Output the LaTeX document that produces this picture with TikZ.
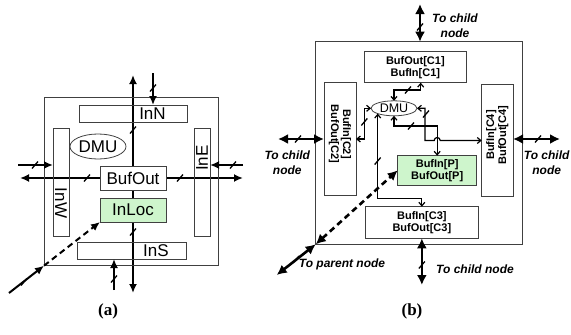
\documentclass[tikz,border=0pt]{standalone}
\usepackage{fontspec}
\setmainfont{Liberation Sans}
\newfontfamily\capfont{Liberation Serif}
\usetikzlibrary{shapes.geometric,arrows.meta,calc}
\definecolor{locgreen}{RGB}{206,245,204}
\newcommand\wtick[1]{\draw[line width=1.3pt] (#1) ++(-3,3.5) -- ++(6,-7);}
\begin{document}
\begin{tikzpicture}[x=1pt,y=-1pt,
  box/.style={draw=black!75,line width=0.8pt,inner sep=0,outer sep=0},
  labA/.style={font=\fontsize{17}{20}\selectfont,inner sep=0},
  labB/.style={font=\bfseries\fontsize{11}{12}\selectfont,align=center,inner sep=0},
  note/.style={font=\bfseries\itshape\fontsize{12}{15}\selectfont,align=center,inner sep=0},
  capt/.style={font=\capfont\bfseries\fontsize{17}{20}\selectfont,inner sep=0},
  wireA/.style={line width=2pt,>={Latex[length=9pt,width=8pt]}},
  wireB/.style={line width=2.6pt,>={Latex[length=10pt,width=10pt]}},
  wireI/.style={line width=1.2pt,>={Straight Barb[length=3.5pt,width=6pt]}},
  dashline/.style={dash pattern=on 6pt off 4pt}
]
\useasboundingbox (0,0) rectangle (571,335);

% ================= (a) =================
\coordinate (aTop) at (133,75);
\coordinate (aBot) at (133,293);
\coordinate (aLeft) at (20,178);
\coordinate (aRight) at (243,178);
\draw[wireA,<->] (aTop) -- (aBot);
\draw[wireA,<->] (aLeft) -- (aRight);

\node[box,minimum width=174,minimum height=168] (outerA) at (131,181.7) {};
\node[box,minimum width=108,minimum height=17] (inN) at (133,113.5) {};
\node[box,minimum width=16,minimum height=108] (inW) at (61,182) {};
\node[box,minimum width=16,minimum height=108] (inE) at (202,182) {};
\node[box,minimum width=109,minimum height=17] (inS) at (131.5,250.5) {};
\node[box,ellipse,minimum width=56,minimum height=25,labA] (dmuA) at (98,146.5) {DMU};
\node[box,fill=white,minimum width=66,minimum height=24,labA] (bufOut) at (133,178) {BufOut};
\node[box,fill=locgreen,minimum width=66,minimum height=24,labA] (inLoc) at (133,210) {InLoc};
\node[labA] (tInN) at (152.5,113.5) {InN};
\node[labA] (tInS) at (156,250.5) {InS};
\node[labA,rotate=-90] (tInW) at (61,203) {InW};
\node[labA,rotate=90] (tInE) at (202,158) {InE};

\coordinate (nIn) at (153,73);
\draw[wireA,->] (nIn) -- (nIn |- inN.north);
\coordinate (wIn) at (18,165);
\draw[wireA,->] (wIn) -- (wIn -| inW.west);
\coordinate (eIn) at (243,165);
\draw[wireA,->] (eIn) -- (eIn -| inE.east);
\coordinate (sIn) at (114,290);
\draw[wireA,->] (sIn) -- (sIn |- inS.south);
\coordinate (dIn) at (9,293);
\draw[wireA,->] (dIn) -- (outerA.south west);
\draw[wireA,dashline,->] (outerA.south west) -- (inLoc.south west);

\wtick{133,130}
\wtick{133,232}
\wtick{87,178}
\wtick{180,178}
\wtick{153,88}
\wtick{35,165}
\wtick{233,165}
\wtick{114,279}
\wtick{24,282}

\node[capt] (capA) at (108,311) {(a)};

% ================= (b) =================
\node[box,minimum width=207,minimum height=202.6] (outerB) at (419.2,143) {};
\node[box,minimum width=102.7,minimum height=31,labB] (c1) at (415.35,67.2) {BufOut[C1]\\BufIn[C1]};
\node[box,minimum width=32,minimum height=112.3] (c2) at (340,138.85) {};
\node[labB,rotate=-90] (tc2) at (340,134) {BufIn[C2]\\BufOut[C2]};
\node[box,minimum width=31.3,minimum height=112.4] (c4) at (497.35,140.5) {};
\node[labB,rotate=90] (tc4) at (497.35,135) {BufIn[C4]\\BufOut[C4]};
\node[box,fill=locgreen,minimum width=79,minimum height=29.3,labB] (pB) at (437.2,170.35) {BufIn[P]\\BufOut[P]};
\node[box,minimum width=112.3,minimum height=31.6,labB] (c3) at (421.85,222.5) {BufIn[C3]\\BufOut[C3]};
\node[box,ellipse,minimum width=46,minimum height=15,font=\fontsize{12.5}{14}\selectfont] (dmuB) at (394,108.3) {DMU};

% external links
\coordinate (bTop) at (420,4);
\draw[wireB,<->] (bTop) -- (bTop |- outerB.north);
\coordinate (bLeft) at (278,139);
\draw[wireB,<->] (bLeft) -- (bLeft -| c2.west);
\coordinate (bRight) at (560,139);
\draw[wireB,<->] (bRight -| c4.east) -- (bRight);
\coordinate (bBot) at (421.85,285);
\draw[wireB,<->] (c3.south) -- (bBot);
\coordinate (bPar) at (276.7,275);
\draw[wireB,<->] (bPar) -- (outerB.south west);
\draw[wireB,dashline,<->] (outerB.south west) -- (pB.west);

% internal links
\coordinate (k1) at (420.7,90);
\draw[wireI,<->] (dmuB.north) |- (k1) -- (k1 |- c1.south);
\coordinate (k2) at (364.3,139);
\draw[wireI,<->] (dmuB.west) -| (k2) -- (k2 -| c2.east);
\coordinate (k3) at (425,108.3);
\draw[wireI,<->] (dmuB.east) -- (k3) -- (k3 |- c4.west) -- ($(pB.north |- c4.west)+(-3,0)$) arc[start angle=180,end angle=360,radius=3] -- (c4.west);
\coordinate (k4) at (0,126);
\draw[wireI,<->] (dmuB.south) |- (k4 -| pB.north) -- (pB.north);
\coordinate (k5) at (0,198.3);
\draw[wireI,<->] (dmuB.south west) -- (dmuB.south west |- k5) -| (c3.north);

\wtick{420,27}
\wtick{298,139}
\wtick{538,139}
\wtick{421.85,265}
\wtick{296,259.5}
\wtick{408,90}
\wtick{364.3,122}
\wtick{426,114}
\wtick{411,126}
\wtick{377.7,161}

\node[note] (tTop) at (455,25.5) {To child\\node};
\node[note] (tLeft) at (287.3,162.8) {To child\\node};
\node[note] (tRight) at (546.7,162.8) {To child\\node};
\node[note] (tPar) at (342,264.3) {To parent node};
\node[note] (tBot) at (475,269) {To child node};

\node[capt] (capB) at (412,311) {(b)};
\end{tikzpicture}
\end{document}
